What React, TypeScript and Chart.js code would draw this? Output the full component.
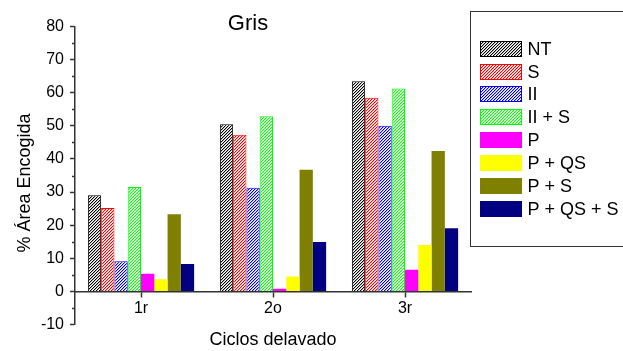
import React, { useEffect, useRef } from "react";
import { Chart, registerables } from "chart.js";

Chart.register(...registerables);

const FONT = "'Liberation Sans', Arial, Helvetica, sans-serif";

const categories = ["1r", "2o", "3r"];
const seriesLabels = ["NT", "S", "II", "II + S", "P", "P + QS", "P + S", "P + QS + S"];
const seriesColors = ["#000000", "#ff0000", "#0000ff", "#00ff00", "#ff00ff", "#ffff00", "#808000", "#000080"];
const seriesHatched = [true, true, true, true, false, false, false, false];

const valuesNT = [29.0, 50.5, 63.5];
const valuesS = [25.2, 47.3, 58.5];
const valuesII = [9.1, 31.3, 50.0];
const valuesIIS = [31.5, 52.9, 61.3];
const valuesP = [5.3, 0.8, 6.5];
const valuesPQS = [3.7, 4.5, 14.0];
const valuesPS = [23.3, 36.7, 42.4];
const valuesPQSS = [8.3, 14.9, 19.1];

const yMin = -10;
const yMax = 80;
const yStep = 10;
const yMinorTicks = [-5, 5, 15, 25, 35, 45, 55, 65, 75];

const chartTitle = "Gris";
const xTitle = "Ciclos delavado";
const yTitle = "% Área Encogida";

function hatch(color: string): CanvasPattern {
  const c = document.createElement("canvas");
  c.width = 3;
  c.height = 3;
  const g = c.getContext("2d")!;
  g.fillStyle = "#ffffff";
  g.fillRect(0, 0, 3, 3);
  g.fillStyle = color;
  for (let i = 0; i < 3; i++) g.fillRect(i, 2 - i, 1, 1);
  g.globalAlpha = 0.3;
  for (let i = 0; i < 3; i++) g.fillRect(i, (3 - i) % 3, 1, 1);
  return g.createPattern(c, "repeat")!;
}

const decorPlugin = {
  id: "decor",
  afterDraw(chart: any) {
    const ctx: CanvasRenderingContext2D = chart.ctx;
    const yScale = chart.scales.y;
    const area = chart.chartArea;
    ctx.save();
    // minor ticks
    ctx.strokeStyle = "#333333";
    ctx.lineWidth = 1.5;
    yMinorTicks.forEach((v) => {
      const py = Math.round(yScale.getPixelForValue(v)) + 0.5;
      ctx.beginPath();
      ctx.moveTo(area.left - 3, py);
      ctx.lineTo(area.left, py);
      ctx.stroke();
    });
    // titles
    ctx.fillStyle = "#000000";
    ctx.textAlign = "center";
    ctx.textBaseline = "alphabetic";
    ctx.font = `22px ${FONT}`;
    ctx.fillText(chartTitle, 248, 30);
    ctx.font = `18px ${FONT}`;
    ctx.fillText(xTitle, (area.left + area.right) / 2, 345);
    ctx.save();
    ctx.translate(25, 183);
    ctx.rotate(-Math.PI / 2);
    ctx.textBaseline = "middle";
    ctx.fillText(yTitle, 0, 0);
    ctx.restore();
    // legend
    ctx.strokeStyle = "#333333";
    ctx.lineWidth = 1;
    ctx.strokeRect(470.5, 11.5, 200, 235);
    const ds = chart.data.datasets;
    ds.forEach((d: any, i: number) => {
      const y0 = Math.round(40.7 + i * 22.86);
      ctx.fillStyle = d.backgroundColor;
      ctx.fillRect(480, y0, 42, 16);
      if (d.borderWidth > 0) {
        ctx.strokeStyle = d.borderColor;
        ctx.lineWidth = 1;
        ctx.strokeRect(480.5, y0 + 0.5, 41, 15);
      }
      ctx.fillStyle = "#000000";
      ctx.textAlign = "left";
      ctx.textBaseline = "middle";
      ctx.font = `18px ${FONT}`;
      ctx.fillText(d.label, 527.5, y0 + 9);
    });
    ctx.restore();
  },
};

export default function App() {
  const ref = useRef<HTMLCanvasElement | null>(null);
  useEffect(() => {
    if (!ref.current) return;
    const allValues = [valuesNT, valuesS, valuesII, valuesIIS, valuesP, valuesPQS, valuesPS, valuesPQSS];
    const datasets = allValues.map((vals, i) => ({
      label: seriesLabels[i],
      data: vals,
      backgroundColor: seriesHatched[i] ? hatch(seriesColors[i]) : seriesColors[i],
      borderColor: seriesColors[i],
      borderWidth: seriesHatched[i] ? 1 : 0,
      categoryPercentage: 0.805,
      barPercentage: 1,
    }));
    const chart = new Chart(ref.current, {
      type: "bar",
      data: { labels: categories, datasets },
      options: {
        animation: false,
        responsive: false,
        maintainAspectRatio: false,
        layout: { padding: { top: 26.5, bottom: 26.5, right: 152, left: 0 } },
        plugins: {
          legend: { display: false },
          title: { display: false },
          tooltip: { enabled: false },
        },
        scales: {
          x: {
            position: { y: 0 },
            offset: true,
            afterFit: (s: any) => {
              s.height = 0;
            },
            grid: {
              display: true,
              drawOnChartArea: false,
              offset: false,
              tickLength: 5,
              tickColor: "#333333",
              tickWidth: 1.5,
            },
            border: { color: "#333333", width: 1.5 },
            ticks: { font: { family: FONT, size: 16 }, color: "#000000", padding: 3 },
          },
          y: {
            min: yMin,
            max: yMax,
            afterFit: (s: any) => {
              s.width = 75;
            },
            grid: {
              display: true,
              drawOnChartArea: false,
              tickLength: 5,
              tickColor: "#333333",
              tickWidth: 1.5,
            },
            border: { color: "#333333", width: 1.5 },
            ticks: { stepSize: yStep, font: { family: FONT, size: 16 }, color: "#000000", padding: 6 },
          },
        },
      } as any,
      plugins: [decorPlugin],
    });
    return () => chart.destroy();
  }, []);
  return (
    <div style={{ position: "absolute", left: 0, top: 0, width: 623, height: 351, background: "#ffffff" }}>
      <canvas ref={ref} width={623} height={351} style={{ width: 623, height: 351, display: "block" }} />
    </div>
  );
}
